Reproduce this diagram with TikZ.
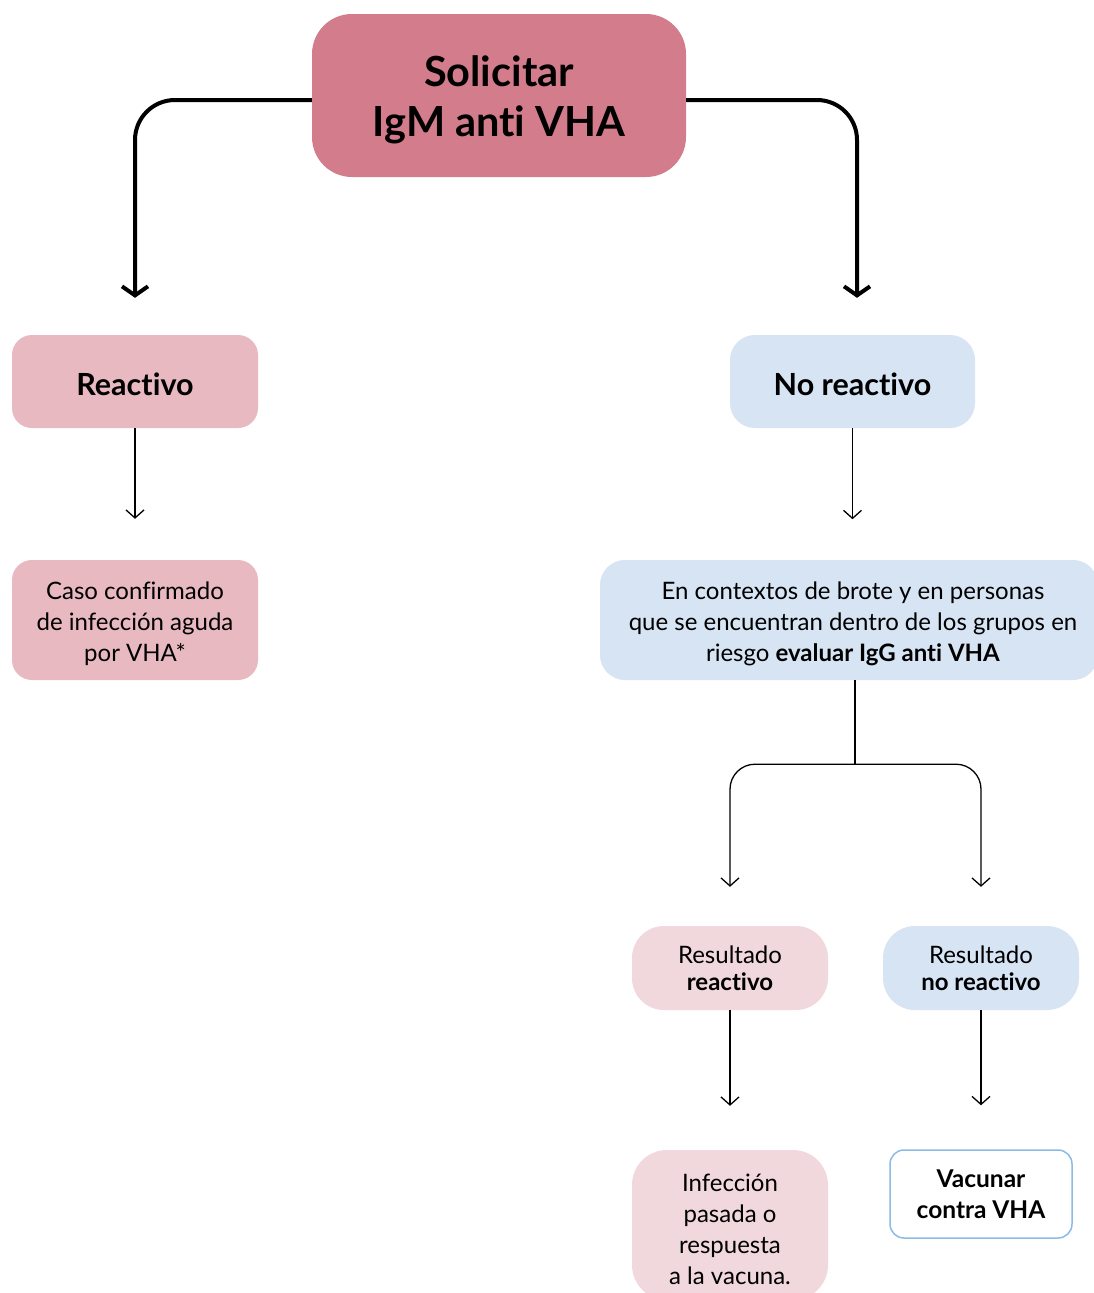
\documentclass[tikz,border=0pt]{standalone}
\usepackage{fontspec}
\setmainfont[Ligatures={NoCommon}]{Lato}
\usetikzlibrary{arrows.meta,positioning}
\definecolor{topc}{HTML}{D37C8B}
\definecolor{pinkc}{HTML}{E8B9C1}
\definecolor{lpinkc}{HTML}{F0D8DC}
\definecolor{bluec}{HTML}{D6E4F3}
\definecolor{bordc}{HTML}{8BBBE6}
\newcommand{\pd}[1]{\rule{0pt}{#1}}
\tikzset{
  box/.style={rounded corners=20pt, align=center, inner sep=0pt, text=black},
  thickarr/.style={line width=4pt, -{Straight Barb[length=9pt,width=26pt,line width=4pt]}, rounded corners=40pt},
  thinarr/.style={line width=1.3pt, -{Straight Barb[length=8pt,width=18pt,line width=1.3pt]}},
  txt/.style={font=\fontsize{24}{31}\selectfont},
}
\begin{document}
\begin{tikzpicture}[x=1pt,y=1pt]
\useasboundingbox (0,0) rectangle (1094,-1293);
\clip (0,0) rectangle (1094,-1293);
\fill[white] (0,0) rectangle (1094,-1293);

\node[box, fill=topc, rounded corners=40pt, minimum width=374pt, minimum height=163pt,
  font=\fontsize{41.5}{50}\selectfont\bfseries] (top) at (499,-95.5) {\pd{40pt}Solicitar\\IgM anti VHA};

\node[box, fill=pinkc, minimum width=246pt, minimum height=93pt,
  font=\fontsize{30.5}{34}\selectfont\bfseries] (reac) at (135,-381.5) {\pd{28pt}Reactivo};
\node[box, fill=bluec, rounded corners=25pt, minimum width=245pt, minimum height=93pt,
  font=\fontsize{30.5}{34}\selectfont\bfseries] (noreac) at (852.5,-381.5) {\pd{28pt}No reactivo};

\node[box, fill=pinkc, minimum width=246pt, minimum height=120pt, txt] (caso) at (135,-620)
  {\pd{26pt}Caso confirmado\\de infección aguda\\por VHA*};
\node[box, fill=bluec, rounded corners=25pt, minimum width=498pt, minimum height=120pt, txt] (ctx) at (849,-620)
  {\pd{26pt}\hspace*{8pt}En contextos de brote y en personas\\\hspace*{8pt}que se encuentran dentro de los grupos en\\\hspace*{8pt}riesgo \textbf{evaluar IgG anti VHA}};

\node[box, fill=lpinkc, rounded corners=32pt, minimum width=196pt, minimum height=84pt,
  font=\fontsize{24}{27}\selectfont] (resR) at (730,-968) {Resultado\\\textbf{reactivo}};
\node[box, fill=bluec, rounded corners=32pt, minimum width=196pt, minimum height=84pt,
  font=\fontsize{24}{27}\selectfont] (resN) at (981,-968) {Resultado\\\textbf{no reactivo}};

\node[box, fill=lpinkc, rounded corners=35pt, minimum width=196pt, minimum height=150pt, txt] (inf) at (730,-1225)
  {\pd{26pt}Infección\\pasada o\\respuesta\\a la vacuna.};
\node[box, fill=white, draw=bordc, line width=1.5pt, rounded corners=14pt, minimum width=182pt, minimum height=88pt,
  font=\fontsize{24.5}{31}\selectfont\bfseries] (vac) at (981,-1194) {Vacunar\\contra VHA};

\draw[thickarr] ([yshift=-4.5pt]top.west) -| ([yshift=37pt]reac.north);
\draw[thickarr] ([yshift=-4.5pt]top.east) -| ([yshift=37pt,xshift=4.5pt]noreac.north);

\draw[thinarr] (reac.south) -- ([yshift=41pt]caso.north);
\draw[thinarr] (noreac.south) -- ++(0,-91);

\draw[line width=1.3pt] ([xshift=6pt]ctx.south) -- ++(0,-84) coordinate (br);
\draw[thinarr, rounded corners=25pt] (br) -| ([yshift=39pt]resR.north);
\draw[thinarr, rounded corners=25pt] (br) -| ([yshift=39pt]resN.north);

\draw[thinarr] (resR.south) -- ([yshift=44pt]inf.north);
\draw[thinarr] (resN.south) -- ([yshift=44pt]vac.north);
\end{tikzpicture}
\end{document}
